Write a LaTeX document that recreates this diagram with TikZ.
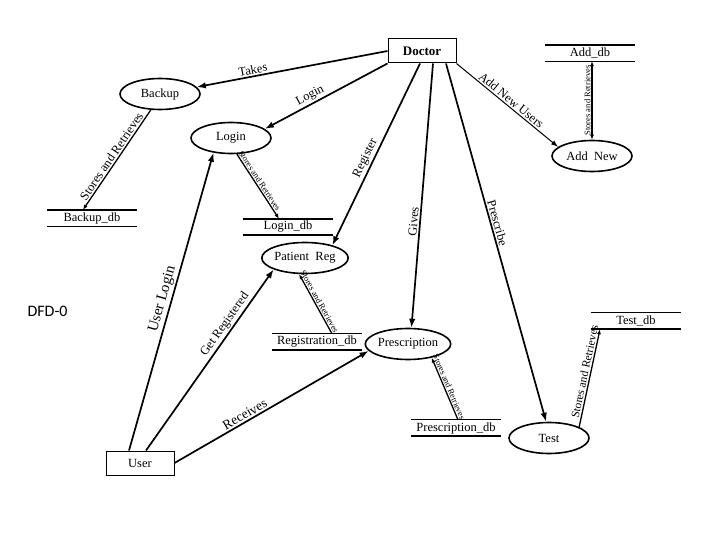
\documentclass[tikz,border=0pt]{standalone}
\usepackage{fontspec}
\setmainfont{Liberation Serif}
\newfontfamily\dfdfont{Carlito}
\usetikzlibrary{shapes.geometric,arrows.meta}
\newcommand\fsz[1]{\fontsize{#1}{#1}\selectfont}

\begin{document}
\begin{tikzpicture}[x=1pt,y=-1pt,
	proc/.style={ellipse,draw,line width=1.6pt,minimum width=80pt,minimum height=31pt,inner sep=0pt,font=\fsz{12.5}},
	ent/.style={draw,line width=1pt,minimum width=68pt,minimum height=24pt,inner sep=0pt,font=\fsz{12.5}},
	store/.style={minimum width=90pt,minimum height=16pt,inner sep=0pt,font=\fsz{12.5}},
	flow/.style={line width=1.7pt,-{Latex[length=9pt,width=6.5pt]}},
	thinflow/.style={line width=1pt,-{Latex[length=7pt,width=5pt]}},
	sr/.style={line width=1.3pt,-{Latex[length=5pt,width=4pt]}},
	lbl/.style={sloped,above,inner sep=1.5pt,font=\fsz{12.5}},
	small/.style={sloped,above,inner sep=1pt,font=\fsz{8.5}}]
	\useasboundingbox (0,0) rectangle (720,540);

	% external entities
	\node[ent,font=\fsz{13}\bfseries] (doctor) at (422,51) {Doctor};
	\node[ent] (user) at (140,463) {User};

	% processes
	\node[proc] (backup) at (160,94) {Backup};
	\node[proc] (login) at (231,138) {Login};
	\node[proc] (patreg) at (305,258) {Patient~~Reg};
	\node[proc] (presc) at (408,344) {Prescription};
	\node[proc] (test) at (549,438) {Test};
	\node[proc] (addnew) at (592,156) {Add~~New};

	% data stores
	\node[store] (bdb) at (92,218) {Backup\_db};
	\node[store] (ldb) at (288,227) {Login\_db};
	\node[store] (rdb) at (317,342) {Registration\_db};
	\node[store] (pdb) at (456,428) {Prescription\_db};
	\node[store] (tdb) at (636,321) {Test\_db};
	\node[store] (adb) at (590,53) {Add\_db};
	\foreach \s/\t/\b in {bdb/2/1.2, ldb/2/2, rdb/1.2/2, pdb/1.2/2, tdb/1.2/2, adb/2/1.2}{
		\draw[line width=\t pt] (\s.north west) -- (\s.north east);
		\draw[line width=\b pt] (\s.south west) -- (\s.south east);
	}

	\node[font=\dfdfont\fsz{16},anchor=west] (title) at (24,311) {DFD-0};

	% doctor flows
	\draw[flow] (doctor.west) -- node[lbl,pos=.7] {Takes} (backup);
	\draw[flow] (doctor.south west) -- node[lbl,pos=.6] {Login} (login.15);
	\draw[flow] ([xshift=-2pt]doctor.south) -- node[lbl,pos=.54] {Register} (patreg.25);
	\draw[flow] ([xshift=11pt]doctor.south) -- node[lbl,pos=.6] {Gives} (presc.78);
	\draw[flow] ([xshift=24pt]doctor.south) -- node[lbl,pos=.45] {Prescribe} (test.100);
	\draw[thinflow] (doctor.south east) -- node[lbl,pos=.5] {Add New Users} (addnew.165);

	% user flows
	\draw[flow] ([xshift=-11pt]user.north) -- node[lbl,pos=.5,font=\fsz{15}] {User Login} (login.220);
	\draw[flow] ([xshift=6pt]user.north) -- node[lbl,pos=.67] {Get Registered} (patreg.200);
	\draw[flow] (user.east) -- node[lbl,pos=.38,font=\fsz{13.5}] {Receives} (presc.190);

	% stores and retrieves
	\draw[sr] (backup.240) -- node[lbl,pos=.5] {Stores and Retrieves} ([xshift=-9pt]bdb.north);
	\draw[sr] (login.290) -- node[small,pos=.45] {Stores and Retrieves} ([xshift=-9pt]ldb.north);
	\draw[sr] ([xshift=15pt]rdb.north) -- node[small,pos=.5] {Stores and Retrieves} (patreg.250);
	\draw[sr] ([xshift=2pt]pdb.north) -- node[small,pos=.5] {Stores and Retrieves} (presc.330);
	\draw[sr] (test.20) -- node[lbl,pos=.55,font=\fsz{11.5}] {Stores and Retrieves} ([xshift=-36pt]tdb.south);
	\draw[sr,{Latex[length=5pt,width=4pt]}-{Latex[length=5pt,width=4pt]}] (addnew.north) -- node[small,pos=.5] {Stores and Retrieves} (addnew.north |- adb.south);
\end{tikzpicture}
\end{document}
